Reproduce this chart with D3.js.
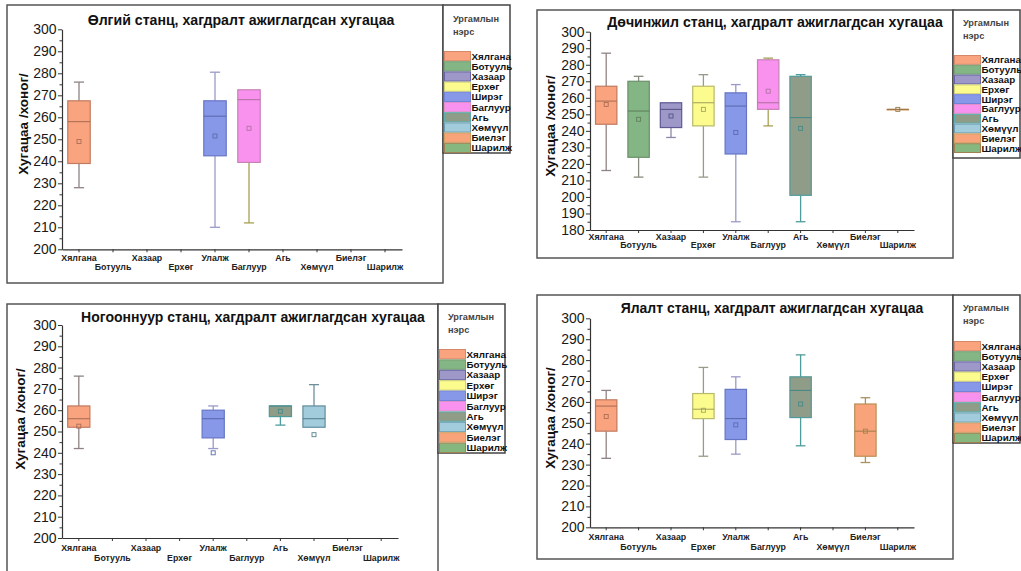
<!DOCTYPE html>
<html>
<head>
<meta charset="utf-8">
<script src="https://cdn.jsdelivr.net/npm/d3@7"></script>
<style>
  body { margin: 0; background: #fff; }
  text { font-family: "Liberation Sans", Arial, sans-serif; }
</style>
</head>
<body>
<svg id="chart" width="1021" height="571"></svg>
<script>
// categories on the x axis and names in the legend
var categories = ["Хялгана", "Ботууль", "Хазаар", "Ерхөг", "Улалж", "Баглуур", "Агь", "Хөмүүл", "Биелэг", "Шарилж"];
var legendNames = ["Хялгана", "Ботууль", "Хазаар", "Ерхөг", "Ширэг", "Баглуур", "Агь", "Хөмүүл", "Биелэг", "Шарилж"];
var legendTitle = ["Ургамлын", "нэрс"];
var yTitle = "Хугацаа /хоног/";

// y tick labels
var ticks200 = [200, 210, 220, 230, 240, 250, 260, 270, 280, 290, 300];
var ticks180 = [180, 190, 200, 210, 220, 230, 240, 250, 260, 270, 280, 290, 300];

// box stats: category, min, q1, median, q3, max, mean
var olgiiBoxes = [
  ["Хялгана", 228, 239, 258, 267.5, 276, 249],
  ["Улалж", 210, 242.5, 260.5, 267.5, 280.5, 251.5],
  ["Баглуур", 212, 239.5, 268, 272.5, 272.5, 255]
];
var dochinjilBoxes = [
  ["Хялгана", 216, 244, 258, 267, 287, 256],
  ["Ботууль", 212, 224, 252, 270, 273, 247],
  ["Хазаар", 236, 242, 253, 257, 257, 249],
  ["Ерхөг", 212, 243, 257, 267, 274, 253],
  ["Улалж", 185, 226, 255, 263, 268, 239],
  ["Баглуур", 243, 253, 257, 283, 284, 264],
  ["Агь", 185, 201, 248, 273, 274, 241.5],
  ["Шарилж", 253, 253, 253, 253, 253, 253]
];
var nogoonnuurBoxes = [
  ["Хялгана", 242, 252, 256, 262, 276, 252.5],
  ["Улалж", 242, 247, 256, 260, 262, 240],
  ["Агь", 253, 257, 262, 262, 262, 259.5],
  ["Хөмүүл", 252, 252, 256, 262, 272, 248.5]
];
var yalaltBoxes = [
  ["Хялгана", 233, 246, 258, 261, 265.5, 253],
  ["Ерхөг", 234, 252, 256.5, 264, 276.5, 256],
  ["Улалж", 235, 242, 252, 266, 272, 249],
  ["Агь", 239, 252.5, 265.5, 272, 282.5, 259],
  ["Биелэг", 231, 234, 246, 259, 262, 246]
];

// styles per legend entry
var fillColors = ["#f9a47f", "#84b584", "#9d98c8", "#fbfb8e", "#8898e8", "#f991ee", "#8e9c88", "#a2cbdb", "#f9a37a", "#86b77e"];
var strokeColors = ["#c07a60", "#6a8f6a", "#5d5a94", "#b9b96a", "#6676c4", "#c781b5", "#4f9b9b", "#5f8d9d", "#b98f55", "#a88a55"];
var whiskerColors = ["#8f8383", "#8a8a80", "#8a88a8", "#9a9a8a", "#9a9ac8", "#a8a055", "#4e9c9c", "#708f99", "#a89060", "#d08a4a"];

var panels = [
  { title: "Өлгий станц, хагдралт ажиглагдсан хугацаа", titleX: 241, titleY: 25, titleW: 307,
    boxes: olgiiBoxes, ticks: ticks200,
    frame: [7, 5, 436, 278], legend: [443, 5, 67, 148], rows: [51, 153], legTitleY: 19,
    x0: 62, x1: 402, yTop: 29.3, yBot: 249.3, lab: [9, 18], yt: [23, 124] },
  { title: "Дөчинжил станц, хагдралт ажиглагдсан хугацаа", titleX: 775, titleY: 27, titleW: 336,
    boxes: dochinjilBoxes, ticks: ticks180,
    frame: [537, 10, 416, 248], legend: [953, 10, 67, 148], rows: [55, 153], legTitleY: 23,
    x0: 590, x1: 914, yTop: 31.7, yBot: 230, lab: [7, 15], yt: [550, 126] },
  { title: "Ногооннуур станц, хагдралт ажиглагдсан хугацаа", titleX: 253, titleY: 322, titleW: 344,
    boxes: nogoonnuurBoxes, ticks: ticks200,
    frame: [7, 304, 431, 272], legend: [438, 304, 67, 149], rows: [349, 453], legTitleY: 317,
    x0: 62, x1: 398, yTop: 325, yBot: 538, lab: [10, 20], yt: [20, 419] },
  { title: "Ялалт станц, хагдралт ажиглагдсан хугацаа", titleX: 772, titleY: 313, titleW: 303,
    boxes: yalaltBoxes, ticks: ticks200,
    frame: [537, 295, 416, 264], legend: [953, 295, 67, 148], rows: [341, 443], legTitleY: 308,
    x0: 590, x1: 914, yTop: 318.3, yBot: 527.3, lab: [10, 20], yt: [550, 418] }
];

var svg = d3.select("#chart");

panels.forEach(function(p) {
  var g = svg.append("g");

  // frame + legend box
  g.append("rect")
    .attr("x", p.frame[0]).attr("y", p.frame[1])
    .attr("width", p.frame[2]).attr("height", p.frame[3])
    .attr("fill", "#fff").attr("stroke", "#555").attr("stroke-width", 1.5);
  g.append("rect")
    .attr("x", p.legend[0]).attr("y", p.legend[1])
    .attr("width", p.legend[2]).attr("height", p.legend[3])
    .attr("fill", "#fff").attr("stroke", "#444").attr("stroke-width", 1.5);

  // title, fitted to width seen in reference
  var t = g.append("text")
    .attr("x", p.titleX).attr("y", p.titleY)
    .attr("text-anchor", "middle")
    .attr("font-weight", "bold").attr("font-size", 15)
    .attr("fill", "#111")
    .text(p.title);
  var len = t.node().getComputedTextLength();
  t.attr("font-size", 15 * p.titleW / len);

  var lo = p.ticks[0], hi = p.ticks[p.ticks.length - 1];
  var y = d3.scaleLinear().domain([lo, hi]).range([p.yBot, p.yTop]);
  var x = d3.scaleBand().domain(categories).range([p.x0, p.x1]).padding(0);
  var bw = x.bandwidth();

  // minor ticks
  g.append("g")
    .attr("transform", "translate(" + p.x0 + ",0)")
    .call(d3.axisLeft(y).tickValues(d3.range(lo + 5, hi, 10)).tickSize(2.5).tickFormat(""))
    .call(function(a) { a.select(".domain").remove(); a.selectAll("line").attr("stroke", "#333"); });

  var yAxis = g.append("g")
    .attr("transform", "translate(" + p.x0 + ",0)")
    .call(d3.axisLeft(y).tickValues(p.ticks).tickSize(4).tickPadding(1.5).tickSizeOuter(0));
  yAxis.selectAll("text")
    .attr("font-size", 14).attr("fill", "#1a1a1a")
    .attr("font-family", "Liberation Sans, Arial, sans-serif");
  yAxis.select(".domain").attr("stroke", "#333").attr("stroke-width", 1.2);
  yAxis.selectAll("line").attr("stroke", "#333");

  var xAxis = g.append("g")
    .attr("transform", "translate(0," + p.yBot + ")")
    .call(d3.axisBottom(x).tickSize(3).tickSizeOuter(0));
  xAxis.select(".domain").attr("stroke", "#333").attr("stroke-width", 1.2);
  xAxis.selectAll("line").attr("stroke", "#333");
  xAxis.selectAll("text")
    .attr("y", function(d, i) { return p.lab[i % 2]; })
    .attr("dy", "0.35em")
    .attr("font-size", 8.8).attr("font-weight", "bold").attr("fill", "#222")
    .attr("font-family", "Liberation Sans, Arial, sans-serif");

  // y title
  g.append("text")
    .attr("transform", "translate(" + p.yt[0] + "," + p.yt[1] + ") rotate(-90)")
    .attr("text-anchor", "middle").attr("dominant-baseline", "central")
    .attr("font-weight", "bold").attr("font-size", 13.5).attr("fill", "#111")
    .text(yTitle);

  // boxes
  var bxw = bw * 0.66, cap = bw * 0.3;
  p.boxes.forEach(function(b) {
    var ci = categories.indexOf(b[0]);
    var cx = x(b[0]) + bw / 2;
    var bg = g.append("g");
    var wc = whiskerColors[ci];
    bg.append("line").attr("x1", cx).attr("x2", cx).attr("y1", y(b[1])).attr("y2", y(b[2]))
      .attr("stroke", wc).attr("stroke-width", 1.3);
    bg.append("line").attr("x1", cx).attr("x2", cx).attr("y1", y(b[4])).attr("y2", y(b[5]))
      .attr("stroke", wc).attr("stroke-width", 1.3);
    if (b[1] < b[2]) {
      bg.append("line").attr("x1", cx - cap / 2).attr("x2", cx + cap / 2).attr("y1", y(b[1])).attr("y2", y(b[1]))
        .attr("stroke", wc).attr("stroke-width", 1.3);
    }
    if (b[5] > b[4]) {
      bg.append("line").attr("x1", cx - cap / 2).attr("x2", cx + cap / 2).attr("y1", y(b[5])).attr("y2", y(b[5]))
        .attr("stroke", wc).attr("stroke-width", 1.3);
    }
    bg.append("rect")
      .attr("x", cx - bxw / 2).attr("y", y(b[4]))
      .attr("width", bxw).attr("height", Math.max(0.5, y(b[2]) - y(b[4])))
      .attr("fill", fillColors[ci]).attr("stroke", b[2] === b[4] ? wc : strokeColors[ci]).attr("stroke-width", 1.2);
    bg.append("line").attr("x1", cx - bxw / 2).attr("x2", cx + bxw / 2).attr("y1", y(b[3])).attr("y2", y(b[3]))
      .attr("stroke", d3.color(strokeColors[ci]).darker(0.4)).attr("stroke-width", 1);
    bg.append("rect")
      .attr("x", cx - 2).attr("y", y(b[6]) - 2).attr("width", 4).attr("height", 4)
      .attr("fill", "none").attr("stroke", d3.color(strokeColors[ci]).darker(0.3)).attr("stroke-width", 0.9);
  });

  // legend
  var lx = p.legend[0];
  legendTitle.forEach(function(s, i) {
    g.append("text")
      .attr("x", lx + 10).attr("y", p.legTitleY + i * 12.5)
      .attr("dy", "0.35em")
      .attr("font-size", 9.2).attr("font-weight", "bold").attr("fill", "#444")
      .text(s);
  });
  var rowH = (p.rows[1] - p.rows[0]) / legendNames.length;
  legendNames.forEach(function(n, i) {
    var ry = p.rows[0] + i * rowH;
    g.append("rect")
      .attr("x", lx + 1.5).attr("y", ry + 0.5)
      .attr("width", 26).attr("height", rowH - 1)
      .attr("fill", fillColors[i]).attr("stroke", i === 9 ? "#a08050" : d3.color(strokeColors[i]).brighter(0.3))
      .attr("stroke-width", 1);
    g.append("text")
      .attr("x", lx + 28.5).attr("y", ry + rowH / 2)
      .attr("dy", "0.35em")
      .attr("font-size", 9.8).attr("font-weight", "bold").attr("fill", "#111")
      .text(n);
  });
});
</script>
</body>
</html>
